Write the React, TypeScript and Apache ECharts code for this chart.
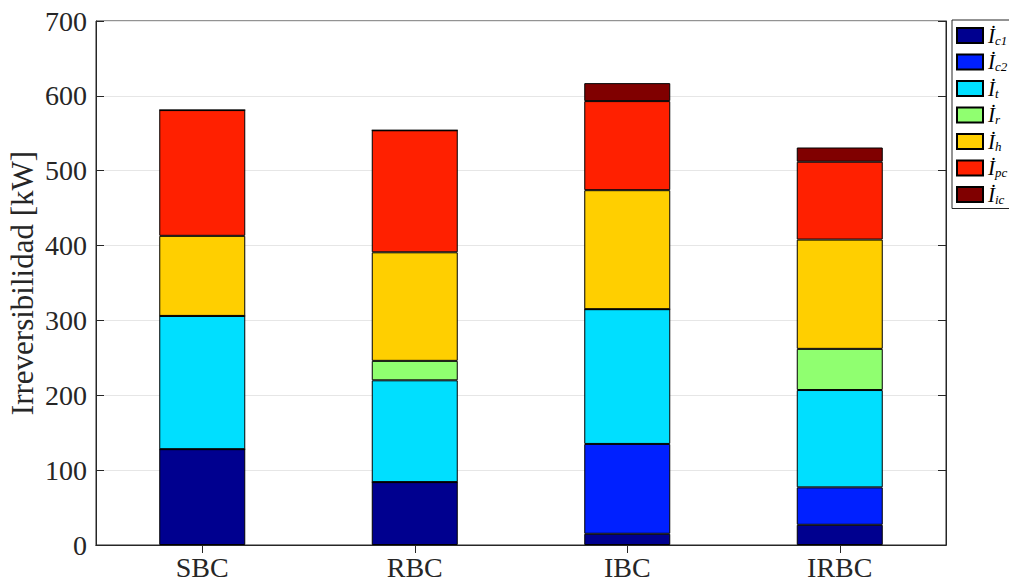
import React, { useEffect, useRef } from "react";
import * as echarts from "echarts";

const categories = ["SBC", "RBC", "IBC", "IRBC"];
const seriesKeys = ["c1", "c2", "t", "r", "h", "pc", "ic"];
const seriesColors = ["#00008f", "#0020ff", "#00dfff", "#90ff70", "#ffcf00", "#ff2000", "#800000"];
const Ic1 = [128, 84, 15, 27];
const Ic2 = [0, 0, 120, 50];
const It = [178, 136, 180, 130];
const Ir = [0, 26, 0, 55];
const Ih = [107, 145, 159, 146];
const Ipc = [168, 163, 119, 104];
const Iic = [0, 0, 24, 19];
const yTicks = [0, 100, 200, 300, 400, 500, 600, 700];

const seriesValues = [Ic1, Ic2, It, Ir, Ih, Ipc, Iic];
const FONT = "Liberation Serif, Times New Roman, serif";
const INK = "#262626";

export default function App() {
  const ref = useRef<HTMLDivElement>(null);
  useEffect(() => {
    document.body.style.margin = "0";
    const chart = echarts.init(ref.current!, null, { renderer: "svg" });
    const yCommon = {
      type: "value",
      min: yTicks[0],
      max: yTicks[yTicks.length - 1],
      interval: 100,
      axisLine: { show: true, lineStyle: { color: INK, width: 1 } },
      axisTick: { show: true, inside: true, length: 8, lineStyle: { color: INK } },
    };
    chart.setOption({
      animation: false,
      backgroundColor: "#ffffff",
      grid: {
        left: 96,
        right: 63,
        top: 21,
        bottom: 42,
        containLabel: false,
        outerBoundsMode: "none",
        show: true,
        borderColor: INK,
        borderWidth: 1,
      },
      legend: {
        orient: "vertical",
        left: 952,
        top: 20,
        padding: [5, 30, 3, 4],
        itemWidth: 26,
        itemHeight: 15,
        itemGap: 5,
        backgroundColor: "#ffffff",
        borderColor: INK,
        borderWidth: 1,
        borderRadius: 0,
        icon: "rect",
        data: seriesKeys,
        formatter: (name: string) => `{i|İ}{s|${name}}`,
        textStyle: {
          rich: {
            i: { fontFamily: FONT, fontStyle: "italic", fontSize: 21, lineHeight: 22, color: "#000" },
            s: {
              fontFamily: FONT,
              fontStyle: "italic",
              fontSize: 13,
              lineHeight: 12,
              verticalAlign: "bottom",
              color: "#000",
            },
          },
        },
      },
      xAxis: [
        {
          type: "category",
          data: categories,
          axisLine: { show: true, lineStyle: { color: INK } },
          axisTick: { show: true, inside: true, alignWithLabel: true, length: 8, lineStyle: { color: INK } },
          axisLabel: { fontFamily: FONT, fontSize: 28, color: INK, margin: 8 },
          splitLine: { show: false },
        },
        {
          type: "category",
          position: "top",
          data: categories,
          axisLine: { show: true, lineStyle: { color: INK } },
          axisTick: { show: true, inside: true, alignWithLabel: true, length: 8, lineStyle: { color: INK } },
          axisLabel: { show: false },
          splitLine: { show: false },
        },
      ],
      yAxis: [
        {
          ...yCommon,
          name: "Irreversibilidad [kW]",
          nameLocation: "middle",
          nameGap: 58,
          nameMoveOverlap: false,
          nameTextStyle: { fontFamily: FONT, fontSize: 31, color: INK },
          axisLabel: { fontFamily: FONT, fontSize: 28, color: INK, margin: 9 },
          splitLine: { show: true, lineStyle: { color: "#e6e6e6", width: 1 } },
        },
        {
          ...yCommon,
          position: "right",
          axisLabel: { show: false },
          splitLine: { show: false },
        },
      ],
      series: seriesKeys.map((k, idx) => ({
        name: k,
        type: "bar",
        stack: "total",
        barWidth: 86,
        data: seriesValues[idx],
        itemStyle: { color: seriesColors[idx], borderColor: "#000", borderWidth: 1 },
      })),
    });
    return () => chart.dispose();
  }, []);
  return <div ref={ref} style={{ width: 1009, height: 587 }} />;
}
